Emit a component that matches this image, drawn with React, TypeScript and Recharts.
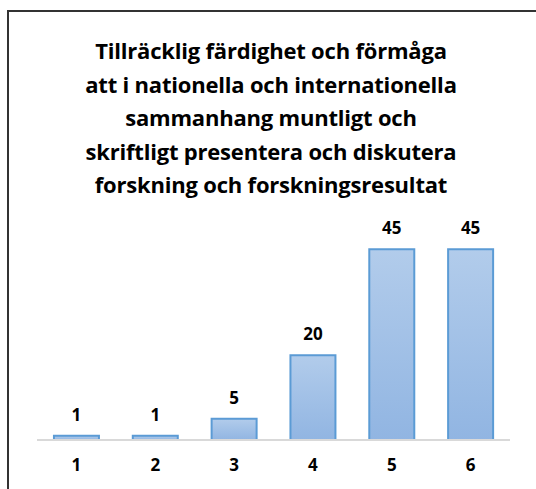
import { BarChart, Bar, XAxis, YAxis, LabelList } from 'recharts';

const titleLines = [
  'Tillräcklig färdighet och förmåga',
  'att i nationella och internationella',
  'sammanhang muntligt och',
  'skriftligt presentera och diskutera',
  'forskning och forskningsresultat',
];
const grades = ['1', '2', '3', '4', '5', '6'];
const counts = [1, 1, 5, 20, 45, 45];

const chartData = grades.map((grade, i) => ({ grade, count: counts[i] }));

const FONT = '"Open Sans", sans-serif';

export default function App() {
  return (
    <div
      style={{
        position: 'absolute',
        left: 0,
        top: 0,
        width: 536,
        height: 489,
        overflow: 'hidden',
        background: '#fff',
        fontFamily: FONT,
      }}
    >
      {/* frame: only the left and top edges are visible in the crop */}
      <div
        style={{
          position: 'absolute',
          left: 7,
          top: 10,
          width: 600,
          height: 600,
          borderLeft: '2px solid #333',
          borderTop: '2px solid #333',
        }}
      />
      <div
        style={{
          position: 'absolute',
          left: 6,
          top: 34,
          width: 530,
          textAlign: 'center',
          fontSize: 22,
          fontWeight: 700,
          lineHeight: '33.5px',
          letterSpacing: -0.2,
          color: '#000',
        }}
      >
        {titleLines.map((line) => (
          <div key={line}>{line}</div>
        ))}
      </div>
      <div style={{ position: 'absolute', left: 0, top: 0 }}>
        <BarChart
          width={536}
          height={489}
          data={chartData}
          margin={{ top: 228, right: 26, left: 37, bottom: 19 }}
          barCategoryGap='21.5%'
        >
          <defs>
            <linearGradient id='barFill' x1='0' y1='0' x2='0' y2='1'>
              <stop offset='0%' stopColor='#b2cceb' />
              <stop offset='100%' stopColor='#91b5e2' />
            </linearGradient>
          </defs>
          <XAxis
            dataKey='grade'
            height={30}
            axisLine={{ stroke: '#d9d9d9', strokeWidth: 2 }}
            tickLine={false}
            tickMargin={13}
            tick={{ fontSize: 17, fontWeight: 700, fill: '#000', fontFamily: FONT }}
          />
          <YAxis hide domain={[0, 50]} />
          <Bar
            dataKey='count'
            fill='url(#barFill)'
            stroke='#5b9bd5'
            strokeWidth={2}
            isAnimationActive={false}
          >
            <LabelList
              dataKey='count'
              position='top'
              offset={15}
              style={{ fontSize: 17, fontWeight: 700, fill: '#000', fontFamily: FONT }}
            />
          </Bar>
        </BarChart>
      </div>
    </div>
  );
}
